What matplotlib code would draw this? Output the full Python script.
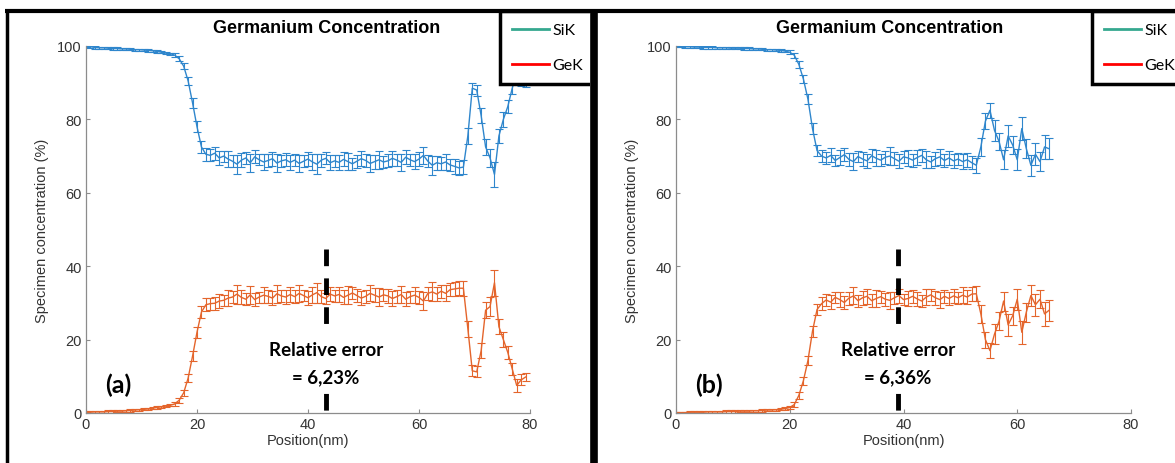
import matplotlib
matplotlib.use('Agg')
import matplotlib.pyplot as plt
import numpy as np
from matplotlib.lines import Line2D
from matplotlib.transforms import Bbox, TransformedBbox

W, H = 1175, 464

# --- data (step 0.8 nm) ---
step = 0.8

sik_a = [100.0, 99.8, 99.6, 99.5, 99.5, 99.4, 99.3, 99.3, 99.2, 99.2,
         99.1, 99.0, 99.0, 98.9, 98.8, 98.7, 98.5, 98.3, 98.1, 97.9,
         97.5, 96.5, 94.5, 90.5, 84.5, 78.0, 72.5, 70.5,
         70.2, 70.8, 69.5, 70.0, 69.2, 68.6, 67.8, 68.9, 69.5, 68.2,
         69.8, 69.0, 68.4, 68.8, 69.3, 68.1, 68.7, 69.0, 68.3, 68.9,
         68.0, 68.6, 69.2, 68.4, 67.8, 68.9, 69.4, 68.2, 68.7, 68.3,
         69.1, 68.5, 67.9, 68.6, 69.3, 68.8, 68.0, 68.5, 69.0, 68.4,
         68.7, 69.4, 68.9, 68.3, 69.7, 69.0, 68.5, 69.2, 70.2, 68.6,
         67.5, 68.2, 67.9, 68.4, 67.6, 67.2, 66.8,
         67.0, 75.5, 88.5, 88.0, 81.0, 72.5, 69.5, 65.0, 75.5, 80.0,
         83.5, 88.5, 92.5, 90.5, 90.0]
gek_a = [0.2, 0.2, 0.3, 0.3, 0.3, 0.4, 0.4, 0.5, 0.5, 0.6,
         0.7, 0.8, 0.9, 1.0, 1.1, 1.3, 1.5, 1.7, 1.9, 2.1,
         2.5, 3.5, 5.5, 9.5, 15.5, 22.0, 27.5, 29.5,
         29.8, 29.9, 30.5, 30.7, 31.3, 31.6, 32.4, 31.5, 31.0, 32.2,
         30.9, 31.6, 32.1, 31.8, 31.3, 32.5, 31.9, 31.6, 32.3, 31.7,
         32.6, 32.0, 31.4, 32.2, 32.8, 31.7, 31.2, 32.4, 31.9, 32.3,
         31.5, 32.1, 32.7, 32.0, 31.3, 31.8, 32.6, 32.1, 31.6, 32.2,
         31.9, 31.2, 31.7, 32.3, 31.0, 31.7, 32.1, 31.5, 30.5, 32.6,
         33.0, 32.4, 33.2, 32.6, 33.6, 33.8, 34.0,
         34.0, 23.0, 11.5, 11.2, 17.0, 28.0, 29.0, 35.5, 23.5, 20.0,
         16.5, 12.0, 7.5, 9.0, 9.8]
err_a = [0.3, 0.3, 0.3, 0.3, 0.3, 0.3, 0.3, 0.3, 0.3, 0.3,
         0.3, 0.3, 0.3, 0.3, 0.3, 0.3, 0.3, 0.3, 0.3, 0.3,
         0.5, 0.7, 0.9, 1.1, 1.3, 1.5, 1.6, 1.7,
         1.6, 1.8, 2.0, 1.5, 2.2, 1.7, 2.6, 1.9, 1.6, 2.4,
         1.8, 1.5, 2.1, 1.7, 1.9, 2.5, 1.6, 1.8, 2.0, 1.7,
         2.3, 1.6, 1.9, 2.2, 2.7, 1.8, 1.6, 2.0, 1.7, 2.1,
         1.9, 2.4, 1.6, 1.8, 2.0, 1.7, 2.2, 1.9, 2.5, 1.6,
         1.8, 2.0, 1.7, 2.3, 1.9, 1.6, 2.1, 1.8, 2.4, 1.7,
         2.6, 1.9, 1.8, 2.2, 1.7, 2.0, 1.9,
         2.0, 2.2, 1.5, 1.5, 2.0, 2.2, 2.5, 3.5, 2.0, 2.0,
         1.8, 1.6, 1.8, 1.5, 1.2]

sik_b = [100.0, 99.9, 99.8, 99.8, 99.7, 99.7, 99.6, 99.6, 99.6, 99.5,
         99.5, 99.5, 99.4, 99.4, 99.4, 99.3, 99.3, 99.2, 99.2, 99.1,
         99.0, 99.0, 98.9, 98.8, 98.6,
         98.3, 97.5, 95.0, 91.0, 85.5, 77.5, 71.5, 70.0,
         69.5, 70.2, 68.8, 69.6, 70.4, 69.1, 68.5, 69.9, 69.2, 68.7,
         70.1, 69.4, 68.9, 69.7, 70.0, 69.3, 68.6, 69.8, 69.5, 68.9,
         69.6, 70.2, 69.0, 68.4, 69.3, 69.8, 68.8, 69.5, 68.7, 69.2,
         68.5, 69.0, 68.2,
         67.5, 72.5, 79.5, 82.5, 77.0, 74.0, 69.0, 75.5, 73.0, 69.0,
         77.5, 72.0, 67.5, 70.5, 68.5, 72.5, 72.0]
gek_b = [0.1, 0.1, 0.1, 0.2, 0.2, 0.2, 0.2, 0.3, 0.3, 0.3,
         0.3, 0.4, 0.4, 0.4, 0.5, 0.5, 0.5, 0.6, 0.6, 0.7,
         0.8, 0.8, 0.9, 1.0, 1.2,
         1.5, 2.3, 4.8, 8.8, 14.3, 22.3, 28.2, 29.8,
         30.8, 30.2, 31.5, 30.9, 30.1, 31.3, 31.9, 30.6, 31.4, 31.8,
         30.6, 31.2, 31.7, 31.0, 30.7, 31.4, 32.0, 30.9, 31.2, 31.8,
         31.1, 30.5, 31.6, 32.2, 31.4, 30.9, 31.8, 31.2, 31.9, 31.4,
         32.1, 31.6, 32.4,
         32.5, 27.0, 20.0, 17.0, 21.5, 25.0, 30.5, 24.0, 26.5, 31.0,
         22.0, 27.5, 32.0, 29.5, 31.0, 27.0, 28.0]
err_b = [0.3, 0.3, 0.3, 0.3, 0.3, 0.3, 0.3, 0.3, 0.3, 0.3,
         0.3, 0.3, 0.3, 0.3, 0.3, 0.3, 0.3, 0.3, 0.3, 0.3,
         0.3, 0.3, 0.3, 0.3, 0.3,
         0.5, 0.7, 0.9, 1.1, 1.3, 1.5, 1.6, 1.7,
         1.6, 1.9, 1.5, 2.1, 1.7, 1.8, 2.3, 1.6, 1.9, 2.0,
         1.7, 2.2, 1.6, 1.8, 2.4, 1.7, 1.9, 1.6, 2.1, 1.8,
         2.0, 1.7, 2.3, 1.6, 1.9, 2.2, 1.7, 1.8, 2.0, 1.6,
         2.1, 1.9, 1.8,
         2.0, 2.5, 2.2, 2.0, 2.8, 2.4, 2.6, 3.0, 2.5, 2.8,
         3.2, 2.6, 2.8, 3.0, 2.5, 3.2, 2.8]

x_ticks = [0, 20, 40, 60, 80]
y_ticks = [0, 20, 40, 60, 80, 100]
panels = [
    # SiK, GeK, error, dashed-line position, tag, error text
    (sik_a, gek_a, err_a, 43.2, '(a)', '= 6,23%'),
    (sik_b, gek_b, err_b, 39.0, '(b)', '= 6,36%'),
]

C_SI = '#2f86cc'
C_GE = '#e4652c'

plt.rcParams['font.family'] = ['Liberation Sans', 'DejaVu Sans']
plt.rcParams['lines.scale_dashes'] = False


def px(x, y):
    """pixel (from top-left) -> figure fraction"""
    return x / W, 1 - y / H


fig = plt.figure(figsize=(W / 100, H / 100), dpi=100)

axes_px = [(86, 530), (676, 1131)]
title_x = [0.543, 0.47]
for (sik, gek, err, xd, tag, rel), (xl, xr), tx in zip(panels, axes_px, title_x):
    left, bottom = px(xl, 414)
    ax = fig.add_axes([left, bottom, (xr - xl) / W, 367 / H])
    x = np.arange(len(sik)) * step
    ax.errorbar(x, sik, yerr=err, color=C_SI, lw=1.0, elinewidth=0.8,
                capsize=3.2, capthick=0.8)
    ax.errorbar(x, gek, yerr=err, color=C_GE, lw=1.0, elinewidth=0.8,
                capsize=3.2, capthick=0.8)
    ax.plot([xd, xd], [44.7, 0], color='black', lw=3.5,
            dashes=(12, 8.8), zorder=3)
    bb = dict(facecolor='white', edgecolor='none', pad=4.5)
    font = dict(fontweight='bold', family=['Lato', 'DejaVu Sans'])
    ax.text(xd, 17.4, 'Relative error', ha='center', va='center',
            fontsize=13.5, bbox=bb, zorder=4, **font)
    ax.text(xd, 10.0, rel, ha='center', va='center',
            fontsize=13.5, bbox=bb, zorder=4, **font)
    ax.text(5.8, 7.9, tag, ha='center', va='center', fontsize=18, **font)

    ax.set_xlim(0, 80)
    ax.set_ylim(0, 100)
    ax.set_xticks(x_ticks)
    ax.set_yticks(y_ticks)
    for s in ['top', 'right']:
        ax.spines[s].set_visible(False)
    for s in ['left', 'bottom']:
        ax.spines[s].set_color('#8c8c8c')
        ax.spines[s].set_linewidth(0.9)
    ax.tick_params(direction='in', length=3, color='#8c8c8c',
                   labelsize=10.5, labelcolor='#333333', pad=3)
    ax.set_xlabel('Position(nm)', fontsize=10.5, color='#333333', labelpad=1)
    ax.set_ylabel('Specimen concentration (%)', fontsize=10.5,
                  color='#333333', labelpad=6)
    ax.set_title('Germanium Concentration', fontsize=13, fontweight='bold',
                 pad=10, x=tx)

# legends (one per panel, cut off by the frame on the right)
handles = [Line2D([], [], color='#35a88f', lw=2),
           Line2D([], [], color='#ff0000', lw=2)]
for lx, cut in [(500, 590), (1092, W)]:
    leg = fig.legend(handles, ['SiK', 'GeK'], loc='upper left',
                     bbox_to_anchor=px(lx, 12), borderaxespad=0,
                     fancybox=False, edgecolor='black', framealpha=1,
                     prop={'family': ['Lato', 'DejaVu Sans'], 'size': 11.5},
                     handlelength=2.3, labelspacing=1.3, handletextpad=0.25,
                     borderpad=0.75)
    leg.get_frame().set_linewidth(2.5)
    clip = TransformedBbox(Bbox([[0, 0], [cut / W, 1]]), fig.transFigure)
    for a in leg.findobj():
        a.set_clip_box(clip)
        a.set_clip_on(True)

# black frame around the panels
frame = dict(color='black', transform=fig.transFigure, zorder=10,
             solid_capstyle='butt')
fig.add_artist(Line2D(*zip(px(5, 12), px(W, 12)), lw=3, **frame))
fig.add_artist(Line2D(*zip(px(6.5, 10.5), px(6.5, H)), lw=2.5, **frame))
fig.add_artist(Line2D(*zip(px(593.5, 10.5), px(593.5, H)), lw=5.5, **frame))

fig.savefig('out.png', dpi=100)
